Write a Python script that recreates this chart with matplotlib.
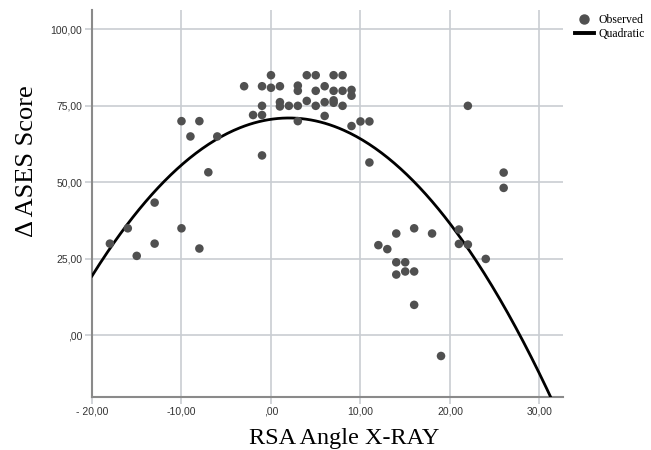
import numpy as np
import matplotlib
matplotlib.use("Agg")
import matplotlib.pyplot as plt
import matplotlib.ticker as mticker
from matplotlib.lines import Line2D

# RSA angle on X-ray (degrees) vs change in ASES score
rsa_angle = [
    -18, -16, -15, -13, -13, -10, -10, -9, -8, -8, -7, -6,
    -3, -2, -1, -1, -1, -1,
    0, 0,
    1, 1, 1,
    2,
    3, 3, 3, 3,
    4, 4,
    5, 5, 5,
    6, 6, 6,
    7, 7, 7, 7,
    8, 8, 8,
    9, 9, 9,
    10, 11, 11,
    12, 13, 14, 14, 14, 15, 15, 16, 16, 16, 18, 19,
    21, 21, 22, 22, 24, 26, 26,
]
delta_ases = [
    30.0, 35.0, 26.0, 43.4, 30.0, 70.0, 35.0, 65.0, 70.0, 28.4, 53.3, 65.0,
    81.4, 72.0, 81.4, 75.0, 72.0, 58.8,
    85.0, 80.9,
    81.4, 76.2, 74.8,
    75.0,
    81.6, 79.9, 75.0, 70.0,
    85.0, 76.6,
    85.0, 79.9, 75.0,
    81.4, 76.2, 71.7,
    85.0, 79.9, 76.8, 76.0,
    85.0, 79.9, 75.0,
    80.2, 78.3, 68.4,
    69.9, 69.9, 56.5,
    29.5, 28.2, 33.3, 23.9, 19.9, 23.9, 20.9, 35.0, 20.9, 10.0, 33.3, -6.7,
    34.6, 29.9, 29.7, 75.0, 25.0, 53.2, 48.2,
]

x_ticks = [-20, -10, 0, 10, 20, 30]
x_tick_labels = ["- 20,00", "-10,00", ",00", "10,00", "20,00", "30,00"]
y_ticks = [0, 25, 50, 75, 100]
y_tick_labels = [",00", "25,00", "50,00", "75,00", "100,00"]

DOT = "#505050"
GRID = "#c9cdd2"
SPINE = "#8a8a8a"
SERIF = ["Liberation Serif", "DejaVu Serif"]
NARROW = ["Liberation Sans Narrow", "Liberation Sans", "DejaVu Sans"]

fig = plt.figure(figsize=(6.51, 4.5), dpi=100)
ax = fig.add_axes([0.1413, 0.1184, 0.7231, 0.8594])

xlim = (-20, 32.6)
ylim = (-20, 106.3)

# quadratic least-squares fit through the observed points
coef = np.polyfit(rsa_angle, delta_ases, 2)
xs = np.linspace(xlim[0], xlim[1], 300)
ax.plot(xs, np.polyval(coef, xs), color="black", lw=2.0, zorder=3)

ax.scatter(rsa_angle, delta_ases, s=38, color=DOT, edgecolors="none", zorder=4)

ax.set_xlim(*xlim)
ax.set_ylim(*ylim)
ax.xaxis.set_major_locator(mticker.FixedLocator(x_ticks))
ax.yaxis.set_major_locator(mticker.FixedLocator(y_ticks))
ax.set_xticklabels(x_tick_labels, fontfamily=NARROW, fontsize=7.5, color="#333")
ax.set_yticklabels(y_tick_labels, fontfamily=NARROW, fontsize=7.5, color="#333")
ax.tick_params(length=5, width=1.2, color=GRID, pad=2)

ax.grid(True, color=GRID, lw=1.2, zorder=0)
ax.set_axisbelow(True)
ax.spines[["top", "right"]].set_visible(False)
ax.spines[["left", "bottom"]].set_color(SPINE)
ax.spines[["left", "bottom"]].set_linewidth(1.5)

ax.set_xlabel("RSA Angle X-RAY", fontfamily=SERIF, fontsize=17.5, va="center")
ax.xaxis.set_label_coords(0.535, -0.107)
ax.set_ylabel("Δ ASES Score", fontfamily=SERIF, fontsize=19, va="center")
ax.yaxis.set_label_coords(-0.138, 0.61)

handles = [
    Line2D([], [], ls="none", marker="o", ms=6.5, color=DOT, label="Observed"),
    Line2D([], [], color="black", lw=2.8, label="Quadratic"),
]
fig.legend(handles=handles, loc="upper left", bbox_to_anchor=(0.872, 0.985),
           frameon=False, prop={"family": SERIF, "size": 8.5},
           handlelength=1.6, handletextpad=0.4, labelspacing=0.2,
           borderpad=0.1)

fig.savefig("out.png", dpi=100, facecolor="white")
